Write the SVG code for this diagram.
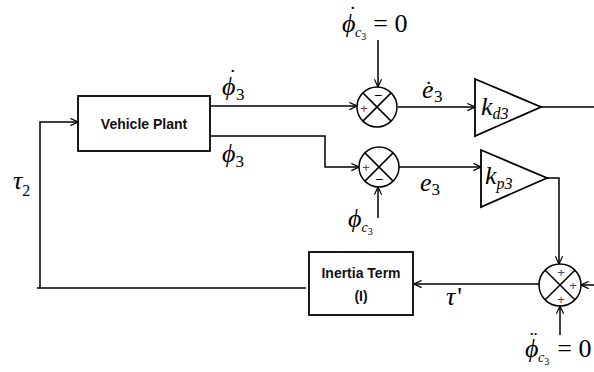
<svg xmlns="http://www.w3.org/2000/svg" width="594" height="372" viewBox="0 0 594 372">
<defs>
<marker id="arr" viewBox="0 0 10 10" refX="9.5" refY="5" markerWidth="9" markerHeight="9" markerUnits="userSpaceOnUse" orient="auto">
<path d="M1,1 L9.5,5 L1,9" fill="none" stroke="#000" stroke-width="1.3"/>
</marker>
</defs>
<style>
.ln{fill:none;stroke:#000;stroke-width:1.5}
.bx{fill:#fff;stroke:#000;stroke-width:1.8}
.lbl{font-family:"Liberation Sans",Arial,sans-serif;font-weight:bold;font-size:14px;fill:#111}
.m{font-family:"Liberation Serif","Times New Roman",serif;font-style:italic;font-size:26px;fill:#000}
.n{font-family:"Liberation Serif","Times New Roman",serif;font-style:normal;fill:#000}
.si{font-family:"Liberation Serif","Times New Roman",serif;font-style:italic;fill:#000}
.d{font-style:normal;font-size:22px}
.pr{font-family:"Liberation Sans",Arial,sans-serif;font-size:13px;fill:#8b3030}
.pb{font-family:"Liberation Sans",Arial,sans-serif;font-size:13px;fill:#3a4a6a}
.mn{font-family:"Liberation Sans",Arial,sans-serif;font-size:14px;fill:#000}
</style>
<g id="connectors">
<path class="ln" d="M40,288 V122 H78" marker-end="url(#arr)"/>
<path class="ln" d="M37,288 H306"/>
<path class="ln" d="M210,106 H357" marker-end="url(#arr)"/>
<path class="ln" d="M207,136 H325 V167 H359" marker-end="url(#arr)"/>
<path class="ln" d="M378,40 V87" marker-end="url(#arr)"/>
<path class="ln" d="M378,218 V187" marker-end="url(#arr)"/>
<path class="ln" d="M398,107 H475" marker-end="url(#arr)"/>
<path class="ln" d="M399,167 H481" marker-end="url(#arr)"/>
<path class="ln" d="M541,107 H594"/>
<path class="ln" d="M547,178 H559 V264" marker-end="url(#arr)"/>
<path class="ln" d="M594,285 H581" marker-end="url(#arr)"/>
<path class="ln" d="M560,335 V306" marker-end="url(#arr)"/>
<path class="ln" d="M539,284 H414" marker-end="url(#arr)"/>
</g>
<g id="vehicle-plant">
<rect class="bx" x="78" y="96" width="132" height="55"/>
<text class="lbl" x="144" y="129" text-anchor="middle">Vehicle Plant</text>
</g>
<g id="inertia-term">
<rect class="bx" x="309" y="252" width="104" height="63"/>
<text class="lbl" x="361" y="278" text-anchor="middle">Inertia Term</text>
<text class="lbl" x="361" y="301" text-anchor="middle">(I)</text>
</g>
<g id="sum1">
<circle class="ln" cx="377" cy="107" r="20"/>
<path class="ln" d="M362.9,92.9 L391.1,121.1 M391.1,92.9 L362.9,121.1"/>
<text class="pr" x="364" y="113" text-anchor="middle">+</text>
<text class="mn" x="378" y="100" text-anchor="middle">−</text>
</g>
<g id="sum2">
<circle class="ln" cx="379" cy="167" r="20"/>
<path class="ln" d="M364.9,152.9 L393.1,181.1 M393.1,152.9 L364.9,181.1"/>
<text class="pr" x="366" y="172" text-anchor="middle">+</text>
<text class="mn" x="379" y="184" text-anchor="middle">−</text>
</g>
<g id="sum3">
<circle class="ln" cx="560" cy="285" r="21"/>
<path class="ln" d="M545.2,270.2 L574.8,299.8 M574.8,270.2 L545.2,299.8"/>
<text class="pb" x="561" y="277" text-anchor="middle">+</text>
<text class="pb" x="573" y="290" text-anchor="middle">+</text>
<text class="pb" x="561" y="304" text-anchor="middle">+</text>
</g>
<g id="kd3">
<path class="bx" d="M475,79 L475,136 L541,107 Z"/>
<text class="m" x="481" y="115">k<tspan class="si" font-size="16" dy="4">d3</tspan></text>
</g>
<g id="kp3">
<path class="bx" d="M481,150 L481,207 L547,178 Z"/>
<text class="m" x="485" y="184">k<tspan class="si" font-size="16" dy="5">p3</tspan></text>
</g>
<g id="labels">
<text class="m" x="222" y="95">ϕ<tspan class="d" x="229" y="84">˙</tspan><tspan class="n" font-size="17" x="236" y="100">3</tspan></text>
<text class="m" x="222" y="162">ϕ<tspan class="n" font-size="17" dy="5">3</tspan></text>
<text class="m" x="13" y="189">τ<tspan class="n" font-size="16" dy="7">2</tspan></text>
<text class="m" x="342" y="32">ϕ<tspan class="d" x="349" y="21">˙</tspan><tspan class="si" font-size="14" x="355" y="37">c</tspan><tspan class="n" font-size="10" dy="3">3</tspan><tspan class="n" font-size="26" dx="7" dy="-8">= 0</tspan></text>
<text class="m" x="348" y="227">ϕ<tspan class="si" font-size="14" dy="5">c</tspan><tspan class="n" font-size="10" dy="3">3</tspan></text>
<text class="m" x="525" y="357">ϕ<tspan class="d" x="530" y="346">¨</tspan><tspan class="si" font-size="14" x="538" y="362">c</tspan><tspan class="n" font-size="10" dy="3">3</tspan><tspan class="n" font-size="26" dx="8" dy="-8">= 0</tspan></text>
<text class="m" x="422" y="98">e<tspan class="d" x="425" y="96">˙</tspan><tspan class="n" font-size="17" x="434" y="102">3</tspan></text>
<text class="m" x="420" y="191">e<tspan class="n" font-size="17" dy="4">3</tspan></text>
<text class="m" x="446" y="305">τ<tspan class="n" dx="2">'</tspan></text>
</g>
</svg>
